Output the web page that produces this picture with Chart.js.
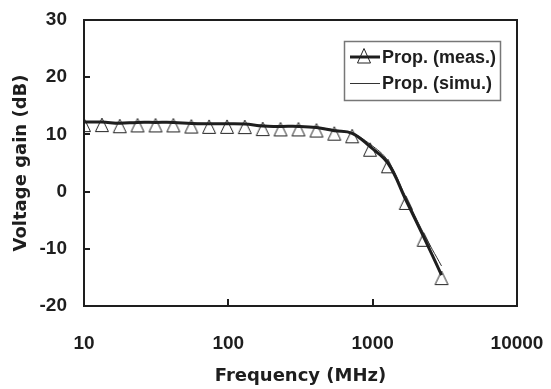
<!DOCTYPE html>
<html><head><meta charset="utf-8">
<script src="https://cdn.jsdelivr.net/npm/chart.js@4.4.1/dist/chart.umd.min.js"></script>
<style>html,body{margin:0;padding:0;background:#fff;overflow:hidden}#wrap{width:551px;height:389px;position:relative}</style>
</head><body><div id="wrap"><canvas id="c" width="551" height="389"></canvas></div>
<script>
// ---- data ----
const frequencies = [10, 13.3, 17.7, 23.5, 31.3, 41.6, 55.4, 73.6, 97.9, 130, 173, 230, 306, 408, 542, 721, 959, 1275, 1696, 2255, 3000];
const measuredGain = [12.15, 12.15, 11.95, 12.1, 12.1, 12.1, 11.9, 11.85, 11.85, 11.8, 11.45, 11.4, 11.4, 11.2, 10.65, 10.2, 7.85, 4.95, -1.45, -7.9, -14.6];
const simulatedGain = [12.1, 12.1, 12.1, 12.1, 12.1, 12.1, 12.0, 11.9, 11.9, 11.8, 11.6, 11.5, 11.4, 11.2, 10.8, 10.2, 8.3, 5.4, -0.9, -7.3, -13.0];
const xTickValues = [10, 100, 1000, 10000];
const yTickValues = [-20, -10, 0, 10, 20, 30];
const seriesNames = ['Prop. (meas.)', 'Prop. (simu.)'];
const xTitle = 'Frequency (MHz)';
const yTitle = 'Voltage gain (dB)';

const FONT = '"Liberation Sans", Arial, sans-serif';
const TFONT = '"DejaVu Sans", sans-serif';
const INK = '#1e1e1e';

// triangle marker (open), drawn slightly below the point
function makeTriangle() {
  const cv = document.createElement('canvas');
  cv.width = 16; cv.height = 24;
  const g = cv.getContext('2d');
  g.strokeStyle = '#222'; g.lineWidth = 1;
  g.beginPath();
  g.moveTo(8, 8); g.lineTo(14.5, 21.5); g.lineTo(1.5, 21.5); g.closePath();
  g.stroke();
  return cv;
}
const tri = makeTriangle();

const decor = {
  id: 'decor',
  afterDraw(chart) {
    const {ctx, chartArea: a, scales: {x, y}} = chart;
    ctx.save();
    ctx.strokeStyle = INK; ctx.lineWidth = 2;
    ctx.strokeRect(a.left, a.top, a.right - a.left, a.bottom - a.top);
    ctx.beginPath();
    yTickValues.forEach(v => { const py = Math.round(y.getPixelForValue(v)); ctx.moveTo(a.left, py); ctx.lineTo(a.left + 6, py); });
    xTickValues.forEach(v => { const px = Math.round(x.getPixelForValue(v)); ctx.moveTo(px, a.bottom); ctx.lineTo(px, a.bottom - 7); });
    ctx.stroke();
    // legend
    const L = a.right - 173, T = a.top + 21, W = 156, H = 59;
    ctx.strokeStyle = '#777'; ctx.lineWidth = 1.5;
    ctx.strokeRect(L + 0.5, T + 0.5, W, H);
    const r1 = T + 16, r2 = T + 42;
    ctx.strokeStyle = INK; ctx.lineWidth = 3;
    ctx.beginPath(); ctx.moveTo(L + 6, r1); ctx.lineTo(L + 36, r1); ctx.stroke();
    ctx.lineWidth = 1; ctx.strokeStyle = '#222';
    ctx.beginPath(); ctx.moveTo(L + 20, r1 - 8.5); ctx.lineTo(L + 26.5, r1 + 6); ctx.lineTo(L + 13.5, r1 + 6); ctx.closePath(); ctx.stroke();
    ctx.strokeStyle = '#333'; ctx.lineWidth = 1;
    ctx.beginPath(); ctx.moveTo(L + 6, r2 + 0.5); ctx.lineTo(L + 36, r2 + 0.5); ctx.stroke();
    ctx.fillStyle = INK; ctx.font = 'bold 18px ' + FONT; ctx.textBaseline = 'middle'; ctx.textAlign = 'left';
    ctx.fillText(seriesNames[0], L + 38, r1 + 1);
    ctx.fillText(seriesNames[1], L + 38, r2 + 1);
    ctx.restore();
  }
};

new Chart(document.getElementById('c'), {
  type: 'line',
  data: {
    datasets: [
      { label: seriesNames[0], data: frequencies.map((f, i) => ({x: f, y: measuredGain[i]})),
        borderColor: INK, borderWidth: 3, pointStyle: tri, pointRadius: 8, pointHoverRadius: 8,
        tension: 0.4, fill: false },
      { label: seriesNames[1], data: frequencies.map((f, i) => ({x: f, y: simulatedGain[i]})),
        borderColor: '#333', borderWidth: 1, pointRadius: 0,
        tension: 0.4, fill: false }
    ]
  },
  options: {
    responsive: false, animation: false, devicePixelRatio: 1,
    layout: { padding: { top: 20, right: 34, left: 0, bottom: 0 } },
    plugins: { legend: { display: false }, tooltip: { enabled: false } },
    scales: {
      x: { type: 'logarithmic', min: 10, max: 10000,
        afterBuildTicks: s => { s.ticks = xTickValues.map(v => ({value: v})); },
        afterFit: s => { s.height = 83; s.paddingLeft = 0; s.paddingRight = 0; },
        grid: { display: false, drawTicks: false }, border: { display: false },
        ticks: { autoSkip: false, maxRotation: 0, padding: 26, color: INK, font: { family: FONT, size: 19, weight: 'bold' }, callback: v => String(v) },
        title: { display: true, text: xTitle, color: INK, font: { family: TFONT, size: 18, weight: 'bold' }, padding: { top: 0, bottom: 2 } } },
      y: { type: 'linear', min: -20, max: 30,
        afterBuildTicks: s => { s.ticks = yTickValues.map(v => ({value: v})); },
        afterFit: s => { s.width = 84; s.paddingTop = 0; s.paddingBottom = 0; },
        grid: { display: false, drawTicks: false }, border: { display: false },
        ticks: { padding: 17, color: INK, font: { family: FONT, size: 19, weight: 'bold' }, callback: v => String(v) },
        title: { display: true, text: yTitle, color: INK, font: { family: TFONT, size: 18, weight: 'bold' }, padding: { top: 11, bottom: 0 } } }
    }
  },
  plugins: [decor]
});
</script></body></html>
